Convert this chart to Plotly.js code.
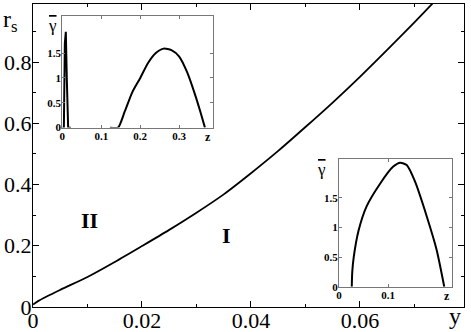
<!DOCTYPE html>
<html>
<head>
<meta charset="utf-8">
<script src="https://cdn.plot.ly/plotly-3.0.1.min.js"></script>
<style>
  body { margin: 0; background: #fff; }
  #chart { width: 471px; height: 332px; }
</style>
</head>
<body>
<div id="chart"></div>
<script>
// main curve: boundary r_s(y) between region II (above) and I (below)
var yVals  = [0, 0.001, 0.005, 0.01, 0.015, 0.02, 0.025, 0.03, 0.035, 0.04, 0.045, 0.05, 0.055, 0.06, 0.065, 0.07, 0.0735]
var rsVals = [0.008, 0.02, 0.056, 0.098, 0.147, 0.199, 0.252, 0.308, 0.368, 0.437, 0.51, 0.588, 0.668, 0.752, 0.84, 0.93, 0.995]

// upper left inset: gamma-bar vs z (spike near 0, then a hump)
var zSpike     = [0.0, 0.004, 0.0065, 0.009, 0.0115, 0.015, 0.022]
var gammaSpike = [0.0, 0.0, 1.7, 1.93, 1.0, 0.0, 0.0]
var zHump      = [0.122, 0.143, 0.16, 0.18, 0.2, 0.22, 0.24, 0.26, 0.28, 0.3, 0.32, 0.34, 0.355, 0.366]
var gammaHump  = [0.0, 0.0, 0.32, 0.72, 1.0, 1.3, 1.5, 1.59, 1.56, 1.43, 1.12, 0.68, 0.3, 0.0]

// lower right inset
var zLow     = [0.026, 0.027, 0.03, 0.04, 0.056, 0.084, 0.11, 0.125, 0.138, 0.155, 0.179, 0.199, 0.2145]
var gammaLow = [0.0, 0.25, 0.5, 0.95, 1.35, 1.74, 2.02, 2.09, 2.05, 1.77, 1.18, 0.62, 0.0]

var insetTicks = ['0', '0.5', '1', '1.5']

var serif = 'Liberation Serif, Times New Roman, serif'

var mainCurve = {
    x: yVals, y: rsVals, type: 'scatter', mode: 'lines',
    line: {color: 'black', width: 1.8, shape: 'spline', smoothing: 0.8},
    xaxis: 'x', yaxis: 'y', hoverinfo: 'skip'
}
var spike = {
    x: zSpike, y: gammaSpike, type: 'scatter', mode: 'lines',
    line: {color: 'black', width: 2},
    xaxis: 'x2', yaxis: 'y2', hoverinfo: 'skip'
}
var hump = {
    x: zHump, y: gammaHump, type: 'scatter', mode: 'lines', line: {color: 'black', width: 2, shape: 'spline', smoothing: 0.6},
    xaxis: 'x2', yaxis: 'y2', hoverinfo: 'skip'
}
var low = {
    x: zLow, y: gammaLow, type: 'scatter', mode: 'lines', line: {color: 'black', width: 2, shape: 'spline', smoothing: 0.6},
    xaxis: 'x3', yaxis: 'y3', hoverinfo: 'skip'
}

function insetAxis(domain, range, dtick, anchor) {
    return {
        domain: domain, range: range, anchor: anchor,
        showline: true, linecolor: '#777', linewidth: 1, mirror: 'ticks',
        ticks: 'inside', ticklen: 3, tickcolor: '#777', dtick: dtick,
        showgrid: false, zeroline: false, ticklabelstandoff: -2,
        tickfont: {family: serif, size: 11, color: 'black', weight: 'bold'}
    }
}

var gammaBar = '<span style="text-decoration:overline">γ</span>'

var layout = {
    width: 471, height: 332,
    margin: {l: 33, r: 7, t: 4, b: 25},
    showlegend: false,
    paper_bgcolor: 'white', plot_bgcolor: 'white',
    xaxis: {
        domain: [0, 1], range: [0, 0.0791], anchor: 'y',
        showline: true, linecolor: 'black', linewidth: 1.2, mirror: 'ticks',
        ticks: 'inside', ticklen: 6, tickcolor: 'black', dtick: 0.02,
        minor: {ticks: 'inside', ticklen: 3, dtick: 0.01, tickcolor: 'black'},
        showgrid: false, zeroline: false, ticklabelstandoff: -7,
        tickfont: {family: serif, size: 22, color: 'black'}
    },
    yaxis: {
        domain: [0, 1], range: [0, 0.99], anchor: 'x',
        showline: true, linecolor: 'black', linewidth: 1.2, mirror: 'ticks',
        ticks: 'inside', ticklen: 6, tickcolor: 'black', dtick: 0.2,
        minor: {ticks: 'inside', ticklen: 3, dtick: 0.1, tickcolor: 'black'},
        showgrid: false, zeroline: false, ticklabelstandoff: -4,
        tickfont: {family: serif, size: 22, color: 'black'}
    },
    xaxis2: insetAxis([0.068, 0.417], [0, 0.386], 0.1, 'y2'),
    yaxis2: insetAxis([0.592, 0.961], [0, 2.25], 0.5, 'x2'),
    xaxis3: insetAxis([0.710, 0.973], [0, 0.231], 0.1, 'y3'),
    yaxis3: insetAxis([0.067, 0.488], [0, 2.15], 0.5, 'x3'),
    annotations: [
        {xref: 'paper', yref: 'paper', x: -0.074, y: 1.0, xanchor: 'left', yanchor: 'top',
         text: 'r<sub>s</sub>', showarrow: false, font: {family: serif, size: 24, color: 'black'}},
        {xref: 'paper', yref: 'paper', x: 0.998, y: 0.02, xanchor: 'right', yanchor: 'top',
         text: 'y', showarrow: false, font: {family: serif, size: 24, color: 'black'}},
        {xref: 'x', yref: 'y', x: 0.0103, y: 0.282, text: 'II', showarrow: false,
         font: {family: serif, size: 22, color: 'black', weight: 'bold'}},
        {xref: 'x', yref: 'y', x: 0.0355, y: 0.235, text: 'I', showarrow: false,
         font: {family: serif, size: 22, color: 'black', weight: 'bold'}},
        {xref: 'x2 domain', yref: 'y2 domain', x: 0, y: 1.02, xanchor: 'right', yanchor: 'top', xshift: -3,
         text: gammaBar, showarrow: false, font: {family: serif, size: 17, color: 'black'}},
        {xref: 'x2 domain', yref: 'y2 domain', x: 1, y: 0, xanchor: 'right', yanchor: 'top', xshift: 0,
         text: 'z', showarrow: false, font: {family: serif, size: 12, color: 'black', weight: 'bold'}},
        {xref: 'x3 domain', yref: 'y3 domain', x: 0, y: 1.01, xanchor: 'right', yanchor: 'top', xshift: -11,
         text: gammaBar, showarrow: false, font: {family: serif, size: 17, color: 'black'}},
        {xref: 'x3 domain', yref: 'y3 domain', x: 1, y: 0, xanchor: 'right', yanchor: 'top', xshift: 0,
         text: 'z', showarrow: false, font: {family: serif, size: 12, color: 'black', weight: 'bold'}}
    ]
}

// tick labels of the insets
layout.yaxis2.tickvals = [0, 0.5, 1, 1.5]
layout.yaxis2.ticktext = insetTicks
layout.yaxis3.tickvals = [0, 0.5, 1, 1.5]
layout.yaxis3.ticktext = insetTicks
layout.xaxis2.tickvals = [0, 0.1, 0.2, 0.3]
layout.xaxis3.tickvals = [0, 0.1]

Plotly.newPlot('chart', [mainCurve, spike, hump, low], layout, {staticPlot: true})
</script>
</body>
</html>
